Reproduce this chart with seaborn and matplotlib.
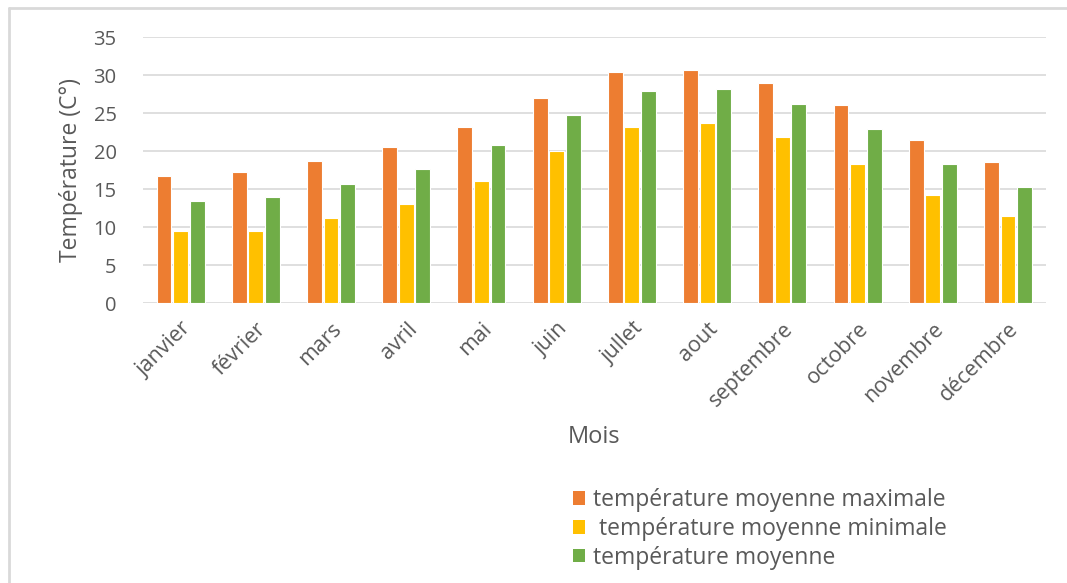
import numpy as np
import pandas as pd
import seaborn as sns
import matplotlib.pyplot as plt
from matplotlib.patches import Patch
from matplotlib.lines import Line2D

# Monthly temperatures (°C)
mois = ["janvier", "février", "mars", "avril", "mai", "juin",
        "jullet", "aout", "septembre", "octobre", "novembre", "décembre"]
t_max = [16.7, 17.2, 18.7, 20.5, 23.2, 27.0, 30.4, 30.7, 28.9, 26.0, 21.5, 18.5]
t_min = [9.5, 9.5, 11.2, 13.1, 16.0, 20.0, 23.2, 23.7, 21.9, 18.3, 14.2, 11.5]
t_moy = [13.5, 14.0, 15.7, 17.7, 20.8, 24.7, 27.9, 28.2, 26.2, 22.9, 18.3, 15.3]

series = ["température moyenne maximale",
          " température moyenne minimale",
          "température moyenne"]
colors = ["#ED7D31", "#FFC000", "#70AD47"]
yticks = [0, 5, 10, 15, 20, 25, 30, 35]

df = pd.DataFrame({
    "Mois": mois * 3,
    "Température": t_max + t_min + t_moy,
    "Série": [s for s in series for _ in mois],
})

sns.set_theme(style="white")
plt.rcParams["font.family"] = ["Open Sans", "DejaVu Sans"]
text_col = "#595959"
grid_col = "#D9D9D9"

fig = plt.figure(figsize=(10.67, 5.83), dpi=100)
ax = fig.add_axes([0.134, 0.480, 0.846, 0.4565])

sns.barplot(data=df, x="Mois", y="Température", hue="Série",
            order=mois, hue_order=series, palette=colors, saturation=1,
            width=0.66, gap=0.1, edgecolor="white", linewidth=0.8,
            legend=False, ax=ax)

ax.set_ylim(0, 35)
ax.set_yticks(yticks)
ax.set_yticklabels([str(v) for v in yticks], fontsize=14.5, color=text_col)
ax.grid(axis="y", color=grid_col, linewidth=1.2)
ax.set_axisbelow(True)
for s in ax.spines.values():
    s.set_visible(False)
ax.tick_params(axis="both", length=0)
ax.tick_params(axis="y", pad=19)
ax.tick_params(axis="x", pad=11)

for lab in ax.get_xticklabels():
    lab.set_rotation(45)
    lab.set_ha("right")
    lab.set_rotation_mode("anchor")
    lab.set_fontsize(15.5)
    lab.set_color(text_col)

ax.set_ylabel("Température (C°)", fontsize=16.5, color=text_col)
ax.yaxis.label.set_va("center")
ax.yaxis.set_label_coords(-0.08, 0.5)
ax.set_xlabel("Mois", fontsize=17, color=text_col)
ax.xaxis.label.set_va("center")
ax.xaxis.set_label_coords(0.5, -0.504)

handles = [Patch(facecolor=c, edgecolor="none") for c in colors]
fig.legend(handles, series, loc="upper left", bbox_to_anchor=(0.528, 0.178),
           frameon=False, fontsize=16.5, handlelength=0.55, handleheight=0.55,
           handletextpad=0.35, labelspacing=0.2, labelcolor=text_col,
           borderaxespad=0)

# chart area frame (top and left edges)
fig.add_artist(Line2D([9 / 1067, 9 / 1067], [0, 1 - 8 / 583],
                      transform=fig.transFigure, color=grid_col, linewidth=2))
fig.add_artist(Line2D([9 / 1067, 1], [1 - 8 / 583, 1 - 8 / 583],
                      transform=fig.transFigure, color=grid_col, linewidth=2))

fig.savefig("out.png", dpi=100, facecolor="white")
